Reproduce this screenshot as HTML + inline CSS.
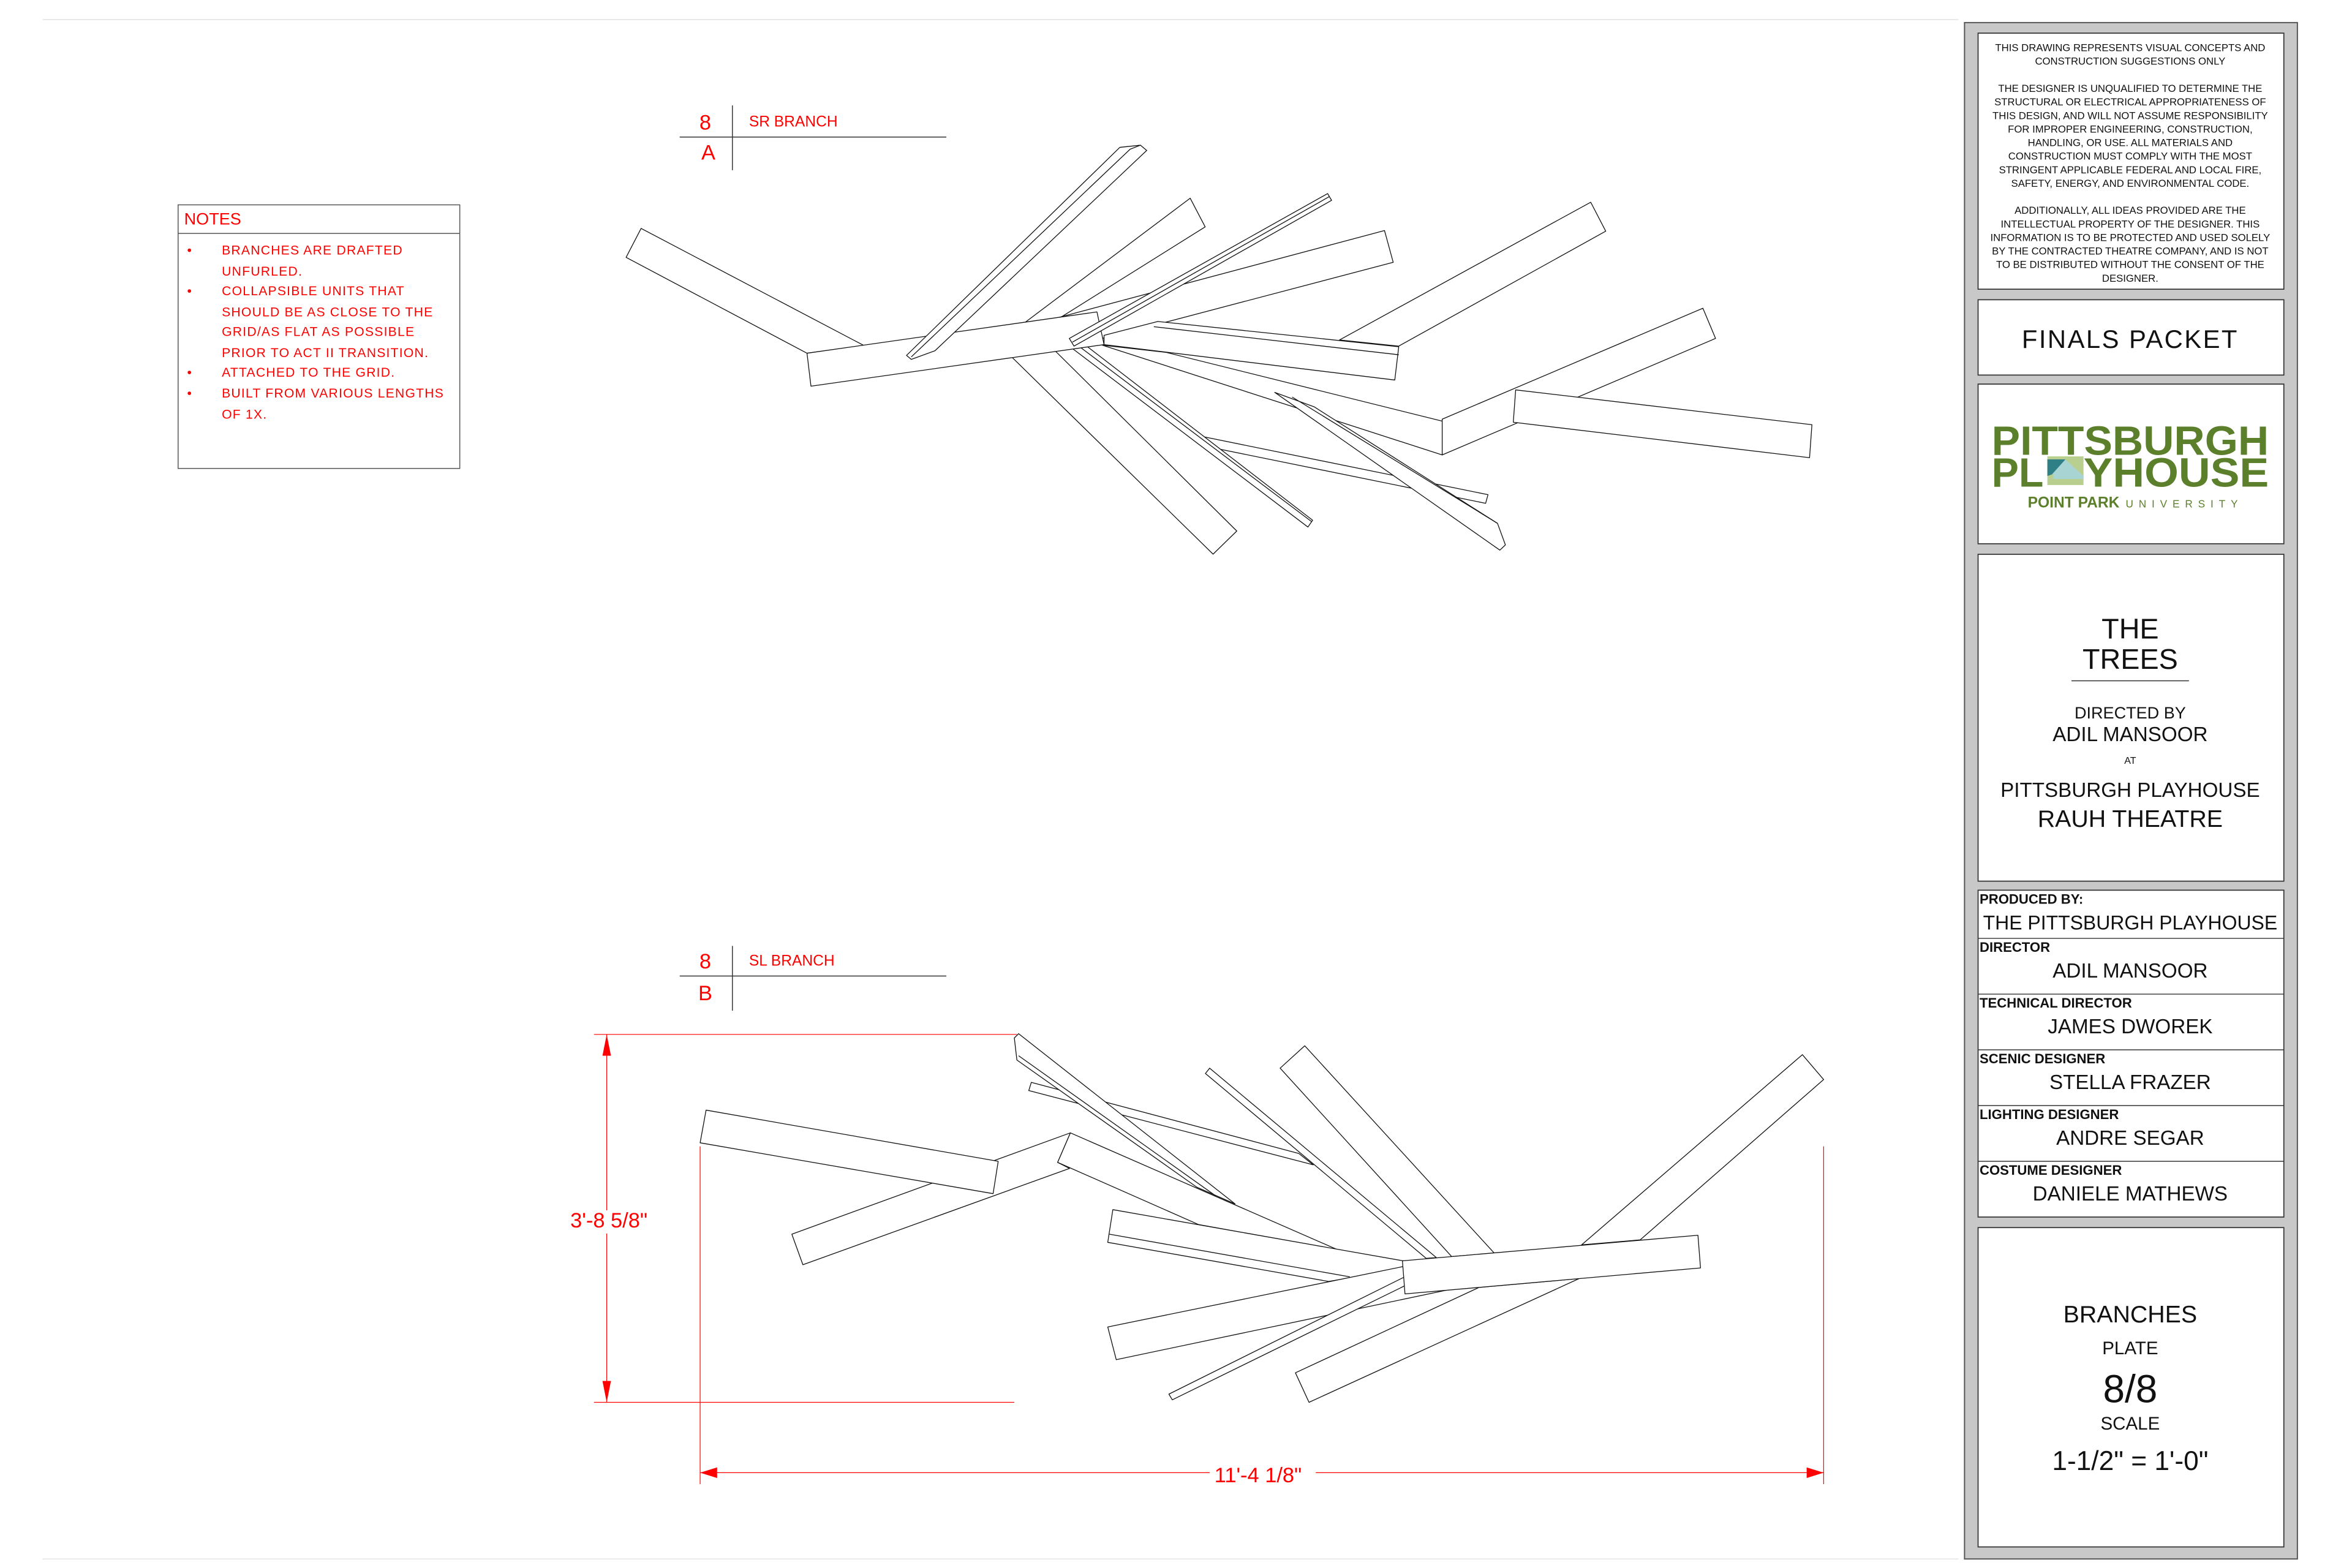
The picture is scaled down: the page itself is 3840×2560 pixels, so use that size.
<!DOCTYPE html>
<html><head><meta charset="utf-8"><style>
html,body{margin:0;padding:0;background:#fff;}
svg{display:block;}
text{font-family:"Liberation Sans",sans-serif;}
</style></head><body>
<svg width="3840" height="2560" viewBox="0 0 1561 1041" xmlns="http://www.w3.org/2000/svg">
<rect x="0" y="0" width="1561" height="1041" fill="#fff"/>
<line x1="28" y1="13" x2="1300" y2="13" stroke="#e4e4e4" stroke-width="0.6"/>
<line x1="28" y1="1035" x2="1300" y2="1035" stroke="#e4e4e4" stroke-width="0.6"/>

<!-- NOTES -->
<g fill="#ff0000">
<rect x="118" y="136" width="187" height="175" fill="none" stroke="#555" stroke-width="0.6"/>
<line x1="118" y1="155" x2="305" y2="155" stroke="#555" stroke-width="0.6"/>
<text x="122" y="149" font-size="11">NOTES</text>
<g font-size="8.6" letter-spacing="0.5">
<text x="124" y="169">•</text><text x="147" y="169">BRANCHES ARE DRAFTED</text>
<text x="147" y="183">UNFURLED.</text>
<text x="124" y="196">•</text><text x="147" y="196">COLLAPSIBLE UNITS THAT</text>
<text x="147" y="210">SHOULD BE AS CLOSE TO THE</text>
<text x="147" y="223">GRID/AS FLAT AS POSSIBLE</text>
<text x="147" y="237">PRIOR TO ACT II TRANSITION.</text>
<text x="124" y="250">•</text><text x="147" y="250">ATTACHED TO THE GRID.</text>
<text x="124" y="264">•</text><text x="147" y="264">BUILT FROM VARIOUS LENGTHS</text>
<text x="147" y="278">OF 1X.</text>
</g></g>

<!-- Labels -->
<g stroke="#333" stroke-width="0.6">
<line x1="486" y1="70" x2="486" y2="113"/><line x1="451" y1="91" x2="628" y2="91"/>
<line x1="486" y1="628" x2="486" y2="671"/><line x1="451" y1="648" x2="628" y2="648"/>
</g>
<g fill="#ff0000">
<text x="468" y="86" font-size="14" text-anchor="middle">8</text>
<text x="470" y="106" font-size="14" text-anchor="middle">A</text>
<text x="497" y="84" font-size="10">SR BRANCH</text>
<text x="468" y="643" font-size="14" text-anchor="middle">8</text>
<text x="468" y="664" font-size="14" text-anchor="middle">B</text>
<text x="497" y="641" font-size="10">SL BRANCH</text>
</g>

<!-- TOP DRAWING -->
<g transform="translate(406.5,61) scale(0.5245,0.2046)" fill="#fff" stroke="#111" stroke-width="1.3" stroke-linejoin="round">
<polygon vector-effect="non-scaling-stroke" points="36,443 17,537 246,848 318,823"/>
<polygon vector-effect="non-scaling-stroke" points="731,345 750,438 565,735 522,748"/>
<polygon vector-effect="non-scaling-stroke" points="977,450 988,553 622,800 560,735"/>
<polygon vector-effect="non-scaling-stroke" points="1238,358 1257,452 995,825 920,805"/>
<polygon vector-effect="non-scaling-stroke" points="505,860 560,840 790,1425 760,1500"/>
<polygon vector-effect="non-scaling-stroke" points="700,845 1065,1078 1050,1178 620,822"/>
<polygon vector-effect="non-scaling-stroke" points="1380,702 1396,800 1050,1178 1050,1062"/>
<polygon vector-effect="non-scaling-stroke" points="740,1115 1108,1307 1105,1335 760,1155"/>
<polygon vector-effect="non-scaling-stroke" points="838,975 888,1022 1120,1400 1130,1470 1123,1487"/>
<line vector-effect="non-scaling-stroke" x1="860" y1="990" x2="1120" y2="1400"/>
<polygon vector-effect="non-scaling-stroke" points="578,825 600,825 886,1390 880,1412"/>
<line vector-effect="non-scaling-stroke" x1="590" y1="825" x2="885" y2="1395"/>
<polygon vector-effect="non-scaling-stroke" points="246,848 613,714 622,820 251,955"/>
<polygon vector-effect="non-scaling-stroke" points="372,855 642,180 668,173 676,190 408,840 378,868"/>
<polyline fill="none" vector-effect="non-scaling-stroke" points="378,860 655,186 668,173"/>
<polygon vector-effect="non-scaling-stroke" points="578,800 905,330 910,352 584,825"/>
<line vector-effect="non-scaling-stroke" x1="582" y1="812" x2="907" y2="340"/>
<polygon vector-effect="non-scaling-stroke" points="690,745 995,827 990,935 622,820 622,790"/>
<line vector-effect="non-scaling-stroke" x1="685" y1="762" x2="995" y2="853"/>
<polygon vector-effect="non-scaling-stroke" points="1143,967 1518,1080 1515,1187 1140,1072"/>
</g>

<!-- BOTTOM DRAWING -->
<g transform="translate(365.9,630.1) scale(0.5638,0.2360)" fill="#fff" stroke="#111" stroke-linejoin="round">
<polygon vector-effect="non-scaling-stroke" stroke-width="1.3" points="283,802 611,517 596,600 610,617 296,888"/>
<polygon vector-effect="non-scaling-stroke" stroke-width="1.3" points="182,453 526,597 520,688 175,545"/>
<polygon vector-effect="non-scaling-stroke" stroke-width="1.3" points="611,517 925,845 762,775 596,600"/>
<polygon vector-effect="non-scaling-stroke" stroke-width="1.3" points="565,375 880,575 897,607 562,398"/>
<polygon vector-effect="non-scaling-stroke" stroke-width="1.3" points="545,250 550,238 805,717 760,670 548,312"/>
<line vector-effect="non-scaling-stroke" stroke-width="1.3" x1="550" y1="300" x2="782" y2="694"/>
<polygon vector-effect="non-scaling-stroke" stroke-width="1.3" points="775,335 770,350 1030,870 1042,868"/>
<polygon vector-effect="non-scaling-stroke" stroke-width="1.3" points="858,335 887,272 1110,855 1060,865"/>
<polygon vector-effect="non-scaling-stroke" stroke-width="1.3" points="1473,297 1498,367 1282,818 1213,832"/>
<polygon vector-effect="non-scaling-stroke" stroke-width="1.3" points="661,733 1003,877 1003,900 915,935 655,825"/>
<line vector-effect="non-scaling-stroke" stroke-width="1.3" x1="657" y1="802" x2="940" y2="922"/>
<polygon vector-effect="non-scaling-stroke" stroke-width="1.3" points="655,1063 1003,893 1063,955 665,1155"/>
<polygon vector-effect="non-scaling-stroke" stroke-width="1.3" points="876,1192 1092,952 1210,927 892,1275"/>
<polygon vector-effect="non-scaling-stroke" stroke-width="1.3" points="727,1252 1040,880 1045,900 731,1268"/>
<polygon vector-effect="non-scaling-stroke" stroke-width="1.3" points="1002,877 1350,805 1353,897 1005,970"/>
<g stroke="#ff0000" fill="none">
<line vector-effect="non-scaling-stroke" stroke-width="1.2" x1="50" y1="240" x2="548" y2="240"/>
<line vector-effect="non-scaling-stroke" stroke-width="1.2" x1="50" y1="1275" x2="545" y2="1275"/>
<line vector-effect="non-scaling-stroke" stroke-width="1.2" x1="65" y1="240" x2="65" y2="735"/>
<line vector-effect="non-scaling-stroke" stroke-width="1.2" x1="65" y1="800" x2="65" y2="1275"/>
<line vector-effect="non-scaling-stroke" stroke-width="1.2" x1="175" y1="555" x2="175" y2="1505"/>
<line vector-effect="non-scaling-stroke" stroke-width="1.2" x1="1498" y1="555" x2="1498" y2="1505"/>
<line vector-effect="non-scaling-stroke" stroke-width="1.2" x1="175" y1="1473" x2="775" y2="1473"/>
<line vector-effect="non-scaling-stroke" stroke-width="1.2" x1="900" y1="1473" x2="1498" y2="1473"/>
</g>
<g fill="#ff0000" stroke="none">
<polygon points="65,240 60,300 70,300"/>
<polygon points="65,1275 60,1215 70,1215"/>
<polygon points="175,1473 195,1458 195,1488"/>
<polygon points="1498,1473 1478,1458 1478,1488"/>
</g>
</g>
<text x="404" y="815" font-size="14" fill="#ff0000" text-anchor="middle">3'-8 5/8"</text>
<text x="835" y="984" font-size="14" fill="#ff0000" text-anchor="middle">11'-4 1/8"</text>

<!-- TITLE BLOCK -->
<g transform="translate(-6,0)">
<rect x="1310" y="15" width="221" height="1020" fill="#c8c8c8" stroke="#555" stroke-width="0.8"/>
<g fill="#fff" stroke="#333" stroke-width="0.7">
<rect x="1319" y="22" width="203" height="170"/>
<rect x="1319" y="199" width="203" height="50"/>
<rect x="1319" y="255" width="203" height="106"/>
<rect x="1319" y="368" width="203" height="217"/>
<rect x="1319" y="591" width="203" height="217"/>
<rect x="1319" y="815" width="203" height="212"/>
</g>
<g stroke="#333" stroke-width="0.6">
<line x1="1319" y1="623" x2="1522" y2="623"/>
<line x1="1319" y1="660" x2="1522" y2="660"/>
<line x1="1319" y1="697" x2="1522" y2="697"/>
<line x1="1319" y1="734" x2="1522" y2="734"/>
<line x1="1319" y1="771" x2="1522" y2="771"/>
<line x1="1381" y1="452" x2="1459" y2="452"/>
</g>
<g font-size="6.8" text-anchor="middle" fill="#111">
<text x="1420" y="34">THIS DRAWING REPRESENTS VISUAL CONCEPTS AND</text>
<text x="1420" y="43">CONSTRUCTION SUGGESTIONS ONLY</text>
<text x="1420" y="61">THE DESIGNER IS UNQUALIFIED TO DETERMINE THE</text>
<text x="1420" y="70">STRUCTURAL OR ELECTRICAL APPROPRIATENESS OF</text>
<text x="1420" y="79">THIS DESIGN, AND WILL NOT ASSUME RESPONSIBILITY</text>
<text x="1420" y="88">FOR IMPROPER ENGINEERING, CONSTRUCTION,</text>
<text x="1420" y="97">HANDLING, OR USE. ALL MATERIALS AND</text>
<text x="1420" y="106">CONSTRUCTION MUST COMPLY WITH THE MOST</text>
<text x="1420" y="115">STRINGENT APPLICABLE FEDERAL AND LOCAL FIRE,</text>
<text x="1420" y="124">SAFETY, ENERGY, AND ENVIRONMENTAL CODE.</text>
<text x="1420" y="142">ADDITIONALLY, ALL IDEAS PROVIDED ARE THE</text>
<text x="1420" y="151">INTELLECTUAL PROPERTY OF THE DESIGNER. THIS</text>
<text x="1420" y="160">INFORMATION IS TO BE PROTECTED AND USED SOLELY</text>
<text x="1420" y="169">BY THE CONTRACTED THEATRE COMPANY, AND IS NOT</text>
<text x="1420" y="178">TO BE DISTRIBUTED WITHOUT THE CONSENT OF THE</text>
<text x="1420" y="187">DESIGNER.</text>
</g>
<text x="1420" y="231" font-size="17" text-anchor="middle" fill="#111" letter-spacing="1">FINALS PACKET</text>
<text x="1328" y="302" font-size="27" font-weight="bold" fill="#5b7f2a" textLength="184" lengthAdjust="spacingAndGlyphs">PITTSBURGH</text>
<text x="1328" y="323" font-size="27" font-weight="bold" fill="#5b7f2a">PL</text>
<polygon points="1365,303 1389,303 1389,322 1365,322" fill="#b9cf8f"/>
<polygon points="1365,305 1377,305 1389,316 1389,318 1369,318 1369,315" fill="#a8d4d4"/>
<polygon points="1365,305 1377,305 1368,315 1365,316" fill="#2e7f86"/>
<text x="1389" y="323" font-size="27" font-weight="bold" fill="#5b7f2a" textLength="123" lengthAdjust="spacingAndGlyphs">YHOUSE</text>
<text x="1352" y="337" font-size="10" font-weight="bold" fill="#5b7f2a">POINT PARK</text>
<text x="1417" y="337" font-size="7" fill="#5b7f2a" letter-spacing="3.6">UNIVERSITY</text>
<g text-anchor="middle" fill="#111">
<text x="1420" y="424" font-size="19">THE</text>
<text x="1420" y="444" font-size="19">TREES</text>
<text x="1420" y="477" font-size="11">DIRECTED BY</text>
<text x="1420" y="492" font-size="13.5">ADIL MANSOOR</text>
<text x="1420" y="507" font-size="6.5">AT</text>
<text x="1420" y="529" font-size="13.5">PITTSBURGH PLAYHOUSE</text>
<text x="1420" y="549" font-size="16">RAUH THEATRE</text>
<text x="1420" y="617" font-size="13">THE PITTSBURGH PLAYHOUSE</text>
<text x="1420" y="649" font-size="13.5">ADIL MANSOOR</text>
<text x="1420" y="686" font-size="13.5">JAMES DWOREK</text>
<text x="1420" y="723" font-size="13.5">STELLA FRAZER</text>
<text x="1420" y="760" font-size="13.5">ANDRE SEGAR</text>
<text x="1420" y="797" font-size="13.5">DANIELE MATHEWS</text>
<text x="1420" y="878" font-size="16">BRANCHES</text>
<text x="1420" y="899" font-size="12">PLATE</text>
<text x="1420" y="931" font-size="26">8/8</text>
<text x="1420" y="949" font-size="12">SCALE</text>
<text x="1420" y="976" font-size="18">1-1/2" = 1'-0"</text>
</g>
<g font-size="9" font-weight="bold" fill="#111">
<text x="1320" y="600">PRODUCED BY:</text>
<text x="1320" y="632">DIRECTOR</text>
<text x="1320" y="669">TECHNICAL DIRECTOR</text>
<text x="1320" y="706">SCENIC DESIGNER</text>
<text x="1320" y="743">LIGHTING DESIGNER</text>
<text x="1320" y="780">COSTUME DESIGNER</text>
</g>
</g>
</svg>
</body></html>
